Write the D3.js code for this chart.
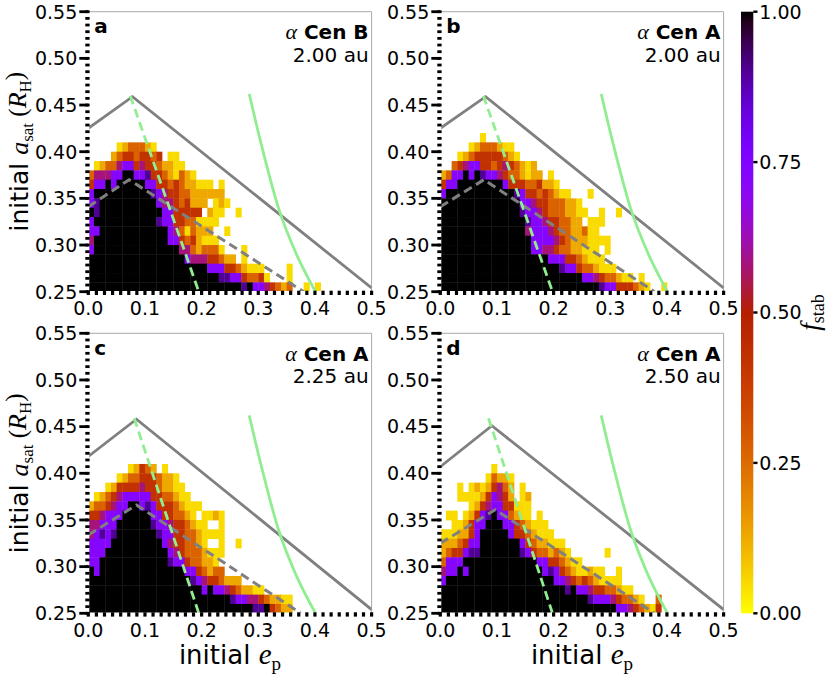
<!DOCTYPE html>
<html>
<head>
<meta charset="utf-8">
<script src="https://cdn.jsdelivr.net/npm/d3@7"></script>
<style>
body { margin: 0; background: #fff; }
svg { display: block; }
</style>
</head>
<body>
<svg width="831" height="677"></svg>
<script>
// ---- data ----

// a_sat of each heatmap row (bottom edge of the cell), top row first
const rowA = [0.41, 0.40, 0.39, 0.38, 0.37, 0.36, 0.35, 0.34, 0.33, 0.32, 0.31, 0.30, 0.29, 0.28, 0.27, 0.26, 0.25];
const cellE = 0.01; // column width in e_p, column i starts at e = i * 0.01
const cellA = 0.01; // row height in a_sat

// cell codes -> f_stab ('.' = no data)
const levelCodes = ['y', 'o', 'O', 'r', 'm', 'p', 'd', 'k'];
const levelValues = [0.05, 0.13, 0.27, 0.42, 0.58, 0.73, 0.90, 1.00];

// one string per row, one character per e_p column
const heatA = [
	'',
	'.....yoOOOoy',
	'....oOrrOrrOr.yy',
	'.yoOOmpprmrrOooyy',
	'OmmmppkkppdrrOoyOoy',
	'rppkpkkkkkpprrOrOooyyy.y',
	'pkkkkkkkkkkdpmrrOOoooooo',
	'pdkkkkkkkkkkpmmrOrooo.yoy',
	'kdkkkkkkkkkkkpprrrrr.oyy..y',
	'pkkkkkkkkkkkdpprrOOyyyy',
	'ppkkkkkkkkkkkkpmOyOooo..y',
	'mkkkkkkkkkkkkkpprOroyyy',
	'pkkkkkkkkkkkkkkkmmOoOOOy...y',
	'kkkkkkkkkkkkkkkkkpmmmrrOoo.y',
	'kkkkkkkkkkkkkkkkkkkkkppprrOoyyy....y',
	'kkkkkkkkkkkkkkkkkkkkkkkddpprOOry...y',
	'kkkkkkkkkkkkkkkkkkkkkkkkkkkdkppmrOoO..y.y'
];
const heatB = [
	'.......y',
	'.....yoOOOoyy',
	'...yoOrrrrrOoy',
	'..OrmpprrOrmrOoyo',
	'oOppkpkdppmrOOoyoo.y',
	'rppkkkkkkkkprrrOOrooy',
	'pkkkkkkkkkkkkdprrOrOoyy...y',
	'kkkkkkkkkkkkkkppmrrOOOooy',
	'kkkkkkkkkkkkkkdppmrOOOooyy..y..y',
	'kkkkkkkkkkkkkkkdppmrrOOoo.yyy',
	'kkkkkkkkkkkkkkkmpppmrOOooOyy',
	'kkkkkkkkkkkkkkkkppppmrOoooyyyy',
	'kkkkkkkkkkkkkkkkppmmrOOooyyy.y',
	'kkkkkkkkkkkkkkkkkkkppprrOoyyy',
	'kkkkkkkkkkkkkkkkkkkkkdpprOOoyyy',
	'kkkkkkkkkkkkkkkkkkkkkkkkkppmrOOoyy.y',
	'kkkkkkkkkkkkkkkkkkkkkkkkkkkkdpprrrOoy..y'
];
const heatC = [
	'',
	'.......yorOo.y',
	'.....yoOOrrrOooy',
	'...yorrrrmrrOooyy',
	'.yoOrmppppprrOOoyy',
	'oOOrmppkkpdprrrOoyyy',
	'rrmpppkkkkkpprrOOoy.yyoy',
	'mmpppkkkkkkdppmrrOoyy..y',
	'mpdpdkkkkkkkdpprrOOoyyyy',
	'ppppkkkkkkkkkpmrrOOoy..y..y',
	'pppkkkkkkkkkkkpmrOOOoyyy',
	'ppkkkkkkkkkkkkdpprOOooy',
	'kpkkkkkkkkkkkkkkkpprOoOO',
	'kkkkkkkkkkkkkkkkkkdpmrrOooo',
	'kkkkkkkkkkkkkkkkkkkkpkppmrOooyy',
	'kkkkkkkkkkkkkkkkkkkkkkkkkdppmmrOooyy',
	'kkkkkkkkkkkkkkkkkkkkkkkkkkkkkddkrOoo'
];
const heatD = [
	'',
	'.........y',
	'........yOooy',
	'...y.yoyormOo.y',
	'...yyyyorpmro.yo',
	'.....yormpprryyy',
	'.yy.yorpdkppOoyy.y',
	'..yyorppkkkpprOoyyy',
	'yyyoorpkkkkkprrOoyyy',
	'oooOrppkkkkkkkprOooyyy',
	'oOrrpddkkkkkkkdprOOoOoy......y',
	'OpppkkkkkkkkkkkkkpprrOoyy',
	'mppkpkkkkkkkkkkkkkpdprOoyyoyy..y',
	'pkkkkkkkkkkkkkkkkkkkppmrOrOoyyyy',
	'kkkkkkkkkkkkkkkkkkkkkkdkppmrrOOoyy',
	'kkkkkkkkkkkkkkkkkkkkkkkkkkdpppmrOOoy..O',
	'kkkkkkkkkkkkkkkkkkkkkkkkkkkkkkkppmrOoyr'
];
const heatRows = [heatA, heatB, heatC, heatD];

const panelLetters = ['a', 'b', 'c', 'd'];
const panelStars = ['Cen B', 'Cen A', 'Cen A', 'Cen A'];
const panelDist = ['2.00 au', '2.00 au', '2.25 au', '2.50 au'];

// gray solid / gray dashed / green dashed boundaries, [e_p, a_sat]
const critSolid = [
	[[0, 0.425], [0.078, 0.459], [0.5, 0.254]],
	[[0, 0.425], [0.080, 0.459], [0.5, 0.254]],
	[[0, 0.418], [0.085, 0.458], [0.5, 0.254]],
	[[0, 0.407], [0.091, 0.451], [0.5, 0.254]]
];
const critDashed = [
	[[0, 0.341], [0.072, 0.370], [0.380, 0.25]],
	[[0, 0.341], [0.077, 0.370], [0.378, 0.25]],
	[[0, 0.334], [0.085, 0.366], [0.375, 0.25]],
	[[0, 0.325], [0.097, 0.361], [0.378, 0.25]]
];
const greenDashed = [
	[[0.074, 0.460], [0.195, 0.25]],
	[[0.076, 0.460], [0.198, 0.25]],
	[[0.081, 0.459], [0.195, 0.25]],
	[[0.085, 0.459], [0.198, 0.25]]
];
const greenCurve = [[0.284, 0.462], [0.304, 0.411], [0.336, 0.339], [0.366, 0.292], [0.401, 0.25]];

// axes
const xTicks = [0, 0.1, 0.2, 0.3, 0.4, 0.5];
const xTickLabels = ['0.0', '0.1', '0.2', '0.3', '0.4', '0.5'];
const yTicks = [0.25, 0.30, 0.35, 0.40, 0.45, 0.50, 0.55];
const yTickLabels = ['0.25', '0.30', '0.35', '0.40', '0.45', '0.50', '0.55'];
const cbarTicks = [0, 0.25, 0.5, 0.75, 1];
const cbarTickLabels = ['0.00', '0.25', '0.50', '0.75', '1.00'];

// ---- layout ----
let svg = d3.select('svg');
const SANS = 'DejaVu Sans, sans-serif';
const SERIF = 'Liberation Serif, DejaVu Serif, serif';
const pw = 283.3, ph = 280; // panel size in px
const panelPos = [
	{ left: 88.3, top: 11.7 },
	{ left: 440.3, top: 11.7 },
	{ left: 88.3, top: 333.3 },
	{ left: 440.3, top: 333.3 }
];
const cbar = { left: 741, width: 12.3, top: 11.7, bottom: 613.3 };

// matplotlib 'gnuplot_r' colormap
function gnuplotR(f)
{
	const x = 1 - f;
	return d3.rgb(255 * Math.sqrt(x), 255 * x * x * x, 255 * Math.max(0, Math.sin(2 * Math.PI * x)));
}

// Appends tspans (text pieces with their own font) to a text element
function addPieces(text, pieces)
{
	pieces.forEach(p =>
	{
		const t = text.append('tspan').text(p.t)
			.attr('font-family', p.serif ? SERIF : SANS);
		if (p.italic) t.attr('font-style', 'italic');
		if (p.bold) t.attr('font-weight', 'bold');
		if (p.size) t.attr('font-size', p.size);
		if (p.dy) t.attr('dy', p.dy);
	});
}

let defs = svg.append('defs');

function drawPanel(i)
{
	const p = panelPos[i];
	const x = d3.scaleLinear().domain([0, 0.5]).range([p.left, p.left + pw]);
	const y = d3.scaleLinear().domain([0.25, 0.55]).range([p.top + ph, p.top]);
	const g = svg.append('g');

	defs.append('clipPath').attr('id', 'clip' + i)
		.append('rect').attr('x', p.left).attr('y', p.top).attr('width', pw).attr('height', ph);

	// heatmap cells
	let cells = [];
	heatRows[i].forEach((row, r) =>
	{
		for (let c = 0; c < row.length; c++)
		{
			const k = levelCodes.indexOf(row[c]);
			if (k < 0) continue;
			cells.push({ e: c * cellE, a: rowA[r], f: levelValues[k] });
		}
	});
	const cw = x(cellE) - x(0), ch = y(0.25) - y(0.25 + cellA);
	g.append('g').attr('clip-path', 'url(#clip' + i + ')')
		.selectAll('rect').data(cells).enter().append('rect')
		.attr('x', d => x(d.e))
		.attr('y', d => y(d.a + cellA))
		.attr('width', cw + 0.4)
		.attr('height', ch + 0.4)
		.attr('fill', d => gnuplotR(d.f));

	// thin top and right frame
	g.append('path')
		.attr('d', `M${p.left},${p.top}H${p.left + pw}V${p.top + ph}`)
		.attr('fill', 'none').attr('stroke', '#a8a8a8').attr('stroke-width', 1);

	// stability boundaries
	const line = d3.line().x(d => x(d[0])).y(d => y(d[1]));
	const lines = g.append('g').attr('clip-path', 'url(#clip' + i + ')').attr('fill', 'none');
	lines.append('path').attr('d', line(critSolid[i]))
		.attr('stroke', '#808080').attr('stroke-width', 2.8);
	lines.append('path').attr('d', line(critDashed[i]))
		.attr('stroke', '#808080').attr('stroke-width', 3).attr('stroke-dasharray', '9,5');
	lines.append('path').attr('d', line(greenDashed[i]))
		.attr('stroke', '#90ee90').attr('stroke-width', 2.8).attr('stroke-dasharray', '9,5');
	lines.append('path').attr('d', line.curve(d3.curveMonotoneX)(greenCurve))
		.attr('stroke', '#90ee90').attr('stroke-width', 2.8);

	// dotted left / bottom spines: white band with thick minor ticks on it
	g.append('line').attr('x1', p.left - 0.8).attr('x2', p.left - 0.8)
		.attr('y1', p.top).attr('y2', p.top + ph + 3)
		.attr('stroke', '#fff').attr('stroke-width', 3.6);
	g.append('line').attr('x1', p.left - 3).attr('x2', p.left + pw)
		.attr('y1', p.top + ph + 1).attr('y2', p.top + ph + 1)
		.attr('stroke', '#fff').attr('stroke-width', 3.6);

	const yMinor = d3.range(0, 43).map(k => 0.25 + k * 0.05 / 7);
	const xMinor = d3.range(0, 36).map(k => k * 0.1 / 7);
	g.append('g').selectAll('rect').data(yMinor).enter().append('rect')
		.attr('x', p.left - 3).attr('y', d => y(d) - 1.4)
		.attr('width', 4.3).attr('height', 2.8).attr('fill', '#000');
	g.append('g').selectAll('rect').data(xMinor).enter().append('rect')
		.attr('x', d => x(d) - 1.6).attr('y', p.top + ph - 1)
		.attr('width', 3.2).attr('height', 4.3).attr('fill', '#000');

	// major ticks + labels
	g.append('g').selectAll('rect').data(yTicks).enter().append('rect')
		.attr('x', p.left - 9).attr('y', d => y(d) - 1.4)
		.attr('width', 9).attr('height', 2.8).attr('fill', '#000');
	g.append('g').selectAll('text').data(yTicks).enter().append('text')
		.attr('x', p.left - 11).attr('y', d => y(d)).attr('dy', '0.36em')
		.attr('text-anchor', 'end').attr('font-family', SANS).attr('font-size', 19)
		.text((d, k) => yTickLabels[k]);
	g.append('g').selectAll('text').data(xTicks).enter().append('text')
		.attr('x', d => x(d)).attr('y', p.top + ph + 23.5)
		.attr('text-anchor', 'middle').attr('font-family', SANS).attr('font-size', 19)
		.text((d, k) => xTickLabels[k]);

	// panel letter and title
	g.append('text').attr('x', p.left + 6).attr('y', p.top + 21.5)
		.attr('font-family', SANS).attr('font-weight', 'bold').attr('font-size', 20)
		.text(panelLetters[i]);
	let t1 = g.append('text').attr('x', p.left + pw - 3).attr('y', p.top + 27.5)
		.attr('text-anchor', 'end').attr('font-size', 20);
	addPieces(t1, [{ t: 'α', serif: true, italic: true, size: 22 }, { t: ' ' + panelStars[i], bold: true }]);
	g.append('text').attr('x', p.left + pw - 3).attr('y', p.top + 50)
		.attr('text-anchor', 'end').attr('font-family', SANS).attr('font-size', 20)
		.text(panelDist[i]);
}

for (let i = 0; i < 4; i++) drawPanel(i);

// y labels
[panelPos[0], panelPos[2]].forEach(p =>
{
	let t = svg.append('text')
		.attr('transform', `translate(28,${p.top + ph / 2}) rotate(-90)`)
		.attr('text-anchor', 'middle').attr('font-size', 25);
	addPieces(t, [
		{ t: 'initial ' },
		{ t: 'a', serif: true, italic: true, size: 26 },
		{ t: 'sat', serif: true, size: 17, dy: '0.3em' },
		{ t: ' (', serif: true, size: 25, dy: '-0.3em' },
		{ t: 'R', serif: true, italic: true, size: 26 },
		{ t: 'H', serif: true, size: 17, dy: '0.3em' },
		{ t: ')', serif: true, size: 25, dy: '-0.3em' }
	]);
});

// x labels
[panelPos[2], panelPos[3]].forEach(p =>
{
	let t = svg.append('text')
		.attr('x', p.left + pw / 2).attr('y', 664)
		.attr('text-anchor', 'middle').attr('font-size', 26);
	addPieces(t, [
		{ t: 'initial ' },
		{ t: 'e', serif: true, italic: true, size: 29 },
		{ t: 'p', serif: true, size: 19, dy: '0.3em' }
	]);
});

// colorbar
let grad = defs.append('linearGradient').attr('id', 'cmap')
	.attr('x1', 0).attr('y1', 1).attr('x2', 0).attr('y2', 0);
d3.range(0, 1.0001, 0.02).forEach(f =>
{
	grad.append('stop').attr('offset', f).attr('stop-color', gnuplotR(f));
});
const cy = d3.scaleLinear().domain([0, 1]).range([cbar.bottom, cbar.top]);
svg.append('rect').attr('x', cbar.left).attr('y', cbar.top)
	.attr('width', cbar.width).attr('height', cbar.bottom - cbar.top)
	.attr('fill', 'url(#cmap)');
svg.append('g').selectAll('rect').data(cbarTicks).enter().append('rect')
	.attr('x', cbar.left + cbar.width).attr('y', d => cy(d) - 1.2)
	.attr('width', 4.2).attr('height', 2.4).attr('fill', '#000');
svg.append('g').selectAll('text').data(cbarTicks).enter().append('text')
	.attr('x', cbar.left + cbar.width + 6).attr('y', d => cy(d)).attr('dy', '0.36em')
	.attr('font-family', SANS).attr('font-size', 19)
	.text((d, k) => cbarTickLabels[k]);

let cl = svg.append('text')
	.attr('transform', `translate(819,${(cbar.top + cbar.bottom) / 2}) rotate(-90)`)
	.attr('text-anchor', 'middle').attr('font-size', 26);
addPieces(cl, [
	{ t: 'f', serif: true, italic: true, size: 27 },
	{ t: 'stab', serif: true, size: 18, dy: '0.3em' }
]);
</script>
</body>
</html>
